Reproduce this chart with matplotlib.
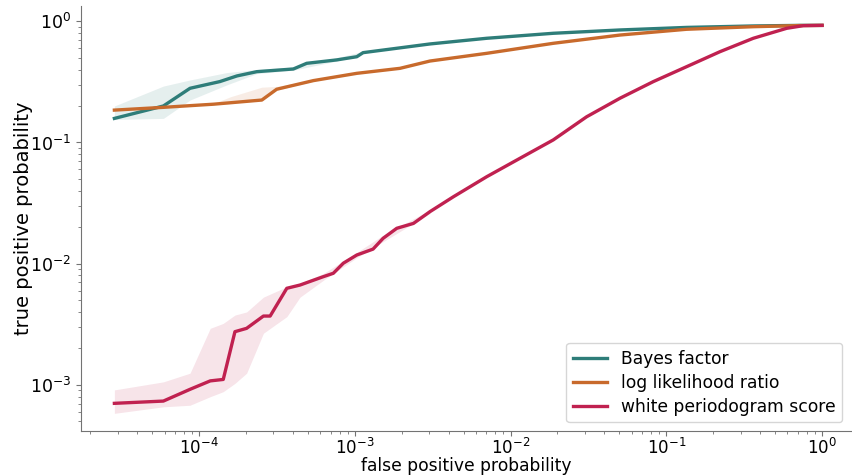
import numpy as np
import matplotlib
matplotlib.use("Agg")
import matplotlib.pyplot as plt

# false positive / true positive values
bayes_fpr = [2.86e-5, 5.9e-5, 8.75e-5, 1.36e-4, 1.75e-4, 2.35e-4, 4.03e-4, 4.91e-4,
             7.65e-4, 1.03e-3, 1.13e-3, 3.04e-3, 7.03e-3, 0.0188, 0.0505, 0.135,
             0.362, 0.723, 1.0]
bayes_tpr = [0.158, 0.200, 0.280, 0.318, 0.354, 0.384, 0.404, 0.450,
             0.480, 0.510, 0.551, 0.650, 0.724, 0.796, 0.848, 0.890,
             0.915, 0.925, 0.925]

llr_fpr = [2.86e-5, 5.9e-5, 1.24e-4, 2.53e-4, 3.15e-4, 5.42e-4, 1.03e-3, 1.95e-3,
           3.04e-3, 7.03e-3, 0.0188, 0.0505, 0.135, 0.362, 0.723, 1.0]
llr_tpr = [0.185, 0.195, 0.207, 0.224, 0.275, 0.324, 0.372, 0.409,
           0.470, 0.544, 0.658, 0.770, 0.859, 0.902, 0.922, 0.925]

wp_fpr = [2.86e-5, 5.9e-5, 8.75e-5, 1.18e-4, 1.43e-4, 1.70e-4, 2.02e-4, 2.59e-4,
          2.86e-4, 3.66e-4, 4.45e-4, 6.28e-4, 7.28e-4, 8.44e-4, 1.03e-3, 1.31e-3,
          1.52e-3, 1.86e-3, 2.38e-3, 3.04e-3, 4.30e-3, 7.03e-3, 0.0115, 0.0188,
          0.0308, 0.0505, 0.0826, 0.135, 0.221, 0.362, 0.593, 0.758, 1.0]
wp_tpr = [7.05e-4, 7.36e-4, 9.2e-4, 1.08e-3, 1.11e-3, 2.75e-3, 2.93e-3, 3.70e-3,
          3.70e-3, 6.27e-3, 6.67e-3, 7.82e-3, 8.34e-3, 0.0101, 0.0118, 0.0132,
          0.0162, 0.0196, 0.0215, 0.0269, 0.0357, 0.0522, 0.0741, 0.105,
          0.163, 0.232, 0.318, 0.422, 0.561, 0.724, 0.875, 0.92, 0.925]

# shaded spread around each curve
bayes_band_fpr = [2.86e-5, 5.9e-5, 8.75e-5, 1.5e-4, 2.35e-4, 4.03e-4, 7.65e-4, 1.13e-3]
bayes_band_lo = [0.155, 0.158, 0.224, 0.298, 0.370, 0.395, 0.470, 0.540]
bayes_band_hi = [0.200, 0.292, 0.328, 0.377, 0.400, 0.420, 0.500, 0.565]

llr_band_fpr = [1.24e-4, 1.6e-4, 2.53e-4, 3.15e-4, 5.42e-4]
llr_band_lo = [0.205, 0.210, 0.222, 0.270, 0.320]
llr_band_hi = [0.210, 0.239, 0.286, 0.290, 0.330]

wp_band_fpr = [2.86e-5, 5.9e-5, 8.75e-5, 1.18e-4, 1.43e-4, 1.70e-4, 2.02e-4, 2.59e-4,
               3.66e-4, 4.45e-4, 6.28e-4, 1.03e-3, 1.52e-3, 3.04e-3]
wp_band_lo = [5.83e-4, 6.6e-4, 6.8e-4, 8.0e-4, 8.8e-4, 1.03e-3, 1.25e-3, 2.67e-3,
              3.66e-3, 5.3e-3, 7.3e-3, 0.0112, 0.0152, 0.0260]
wp_band_hi = [9.1e-4, 1.06e-3, 1.25e-3, 2.93e-3, 3.22e-3, 3.77e-3, 4.0e-3, 5.3e-3,
              6.46e-3, 6.9e-3, 8.3e-3, 0.0124, 0.0172, 0.0278]

labels = ["Bayes factor", "log likelihood ratio", "white periodogram score"]
colors = ["#2e7d79", "#c86a2c", "#c02150"]

fig = plt.figure(figsize=(8.52, 4.76), dpi=100)
ax = fig.add_axes([81/852, 45/476, 770/852, 425/476])

ax.fill_between(bayes_band_fpr, bayes_band_lo, bayes_band_hi, color=colors[0], alpha=0.12, lw=0)
ax.fill_between(llr_band_fpr, llr_band_lo, llr_band_hi, color=colors[1], alpha=0.12, lw=0)
ax.fill_between(wp_band_fpr, wp_band_lo, wp_band_hi, color=colors[2], alpha=0.12, lw=0)

ax.plot(bayes_fpr, bayes_tpr, color=colors[0], lw=2.4, label=labels[0])
ax.plot(llr_fpr, llr_tpr, color=colors[1], lw=2.4, label=labels[1])
ax.plot(wp_fpr, wp_tpr, color=colors[2], lw=2.4, label=labels[2])

ax.set_xscale("log")
ax.set_yscale("log")
ax.set_xlim(10**-4.758, 10**0.186)
ax.set_ylim(10**-3.380, 10**0.126)

for s in ["top", "right"]:
    ax.spines[s].set_visible(False)
for s in ["left", "bottom"]:
    ax.spines[s].set_color("0.45")
ax.tick_params(which="both", colors="0.45", labelcolor="black", labelsize=12.5)
ax.tick_params(axis="x", which="both", pad=1.5, labelsize=12)

ax.set_xlabel("false positive probability", fontsize=12.3)
ax.xaxis.set_label_coords(0.5, -0.062)
ax.set_ylabel("true positive probability", fontsize=14)
ax.yaxis.set_label_coords(-0.062, 0.5)

ax.legend(loc="lower right", fontsize=12.3, labelspacing=0.35, handlelength=2.0)

fig.savefig("out.png", dpi=100)
